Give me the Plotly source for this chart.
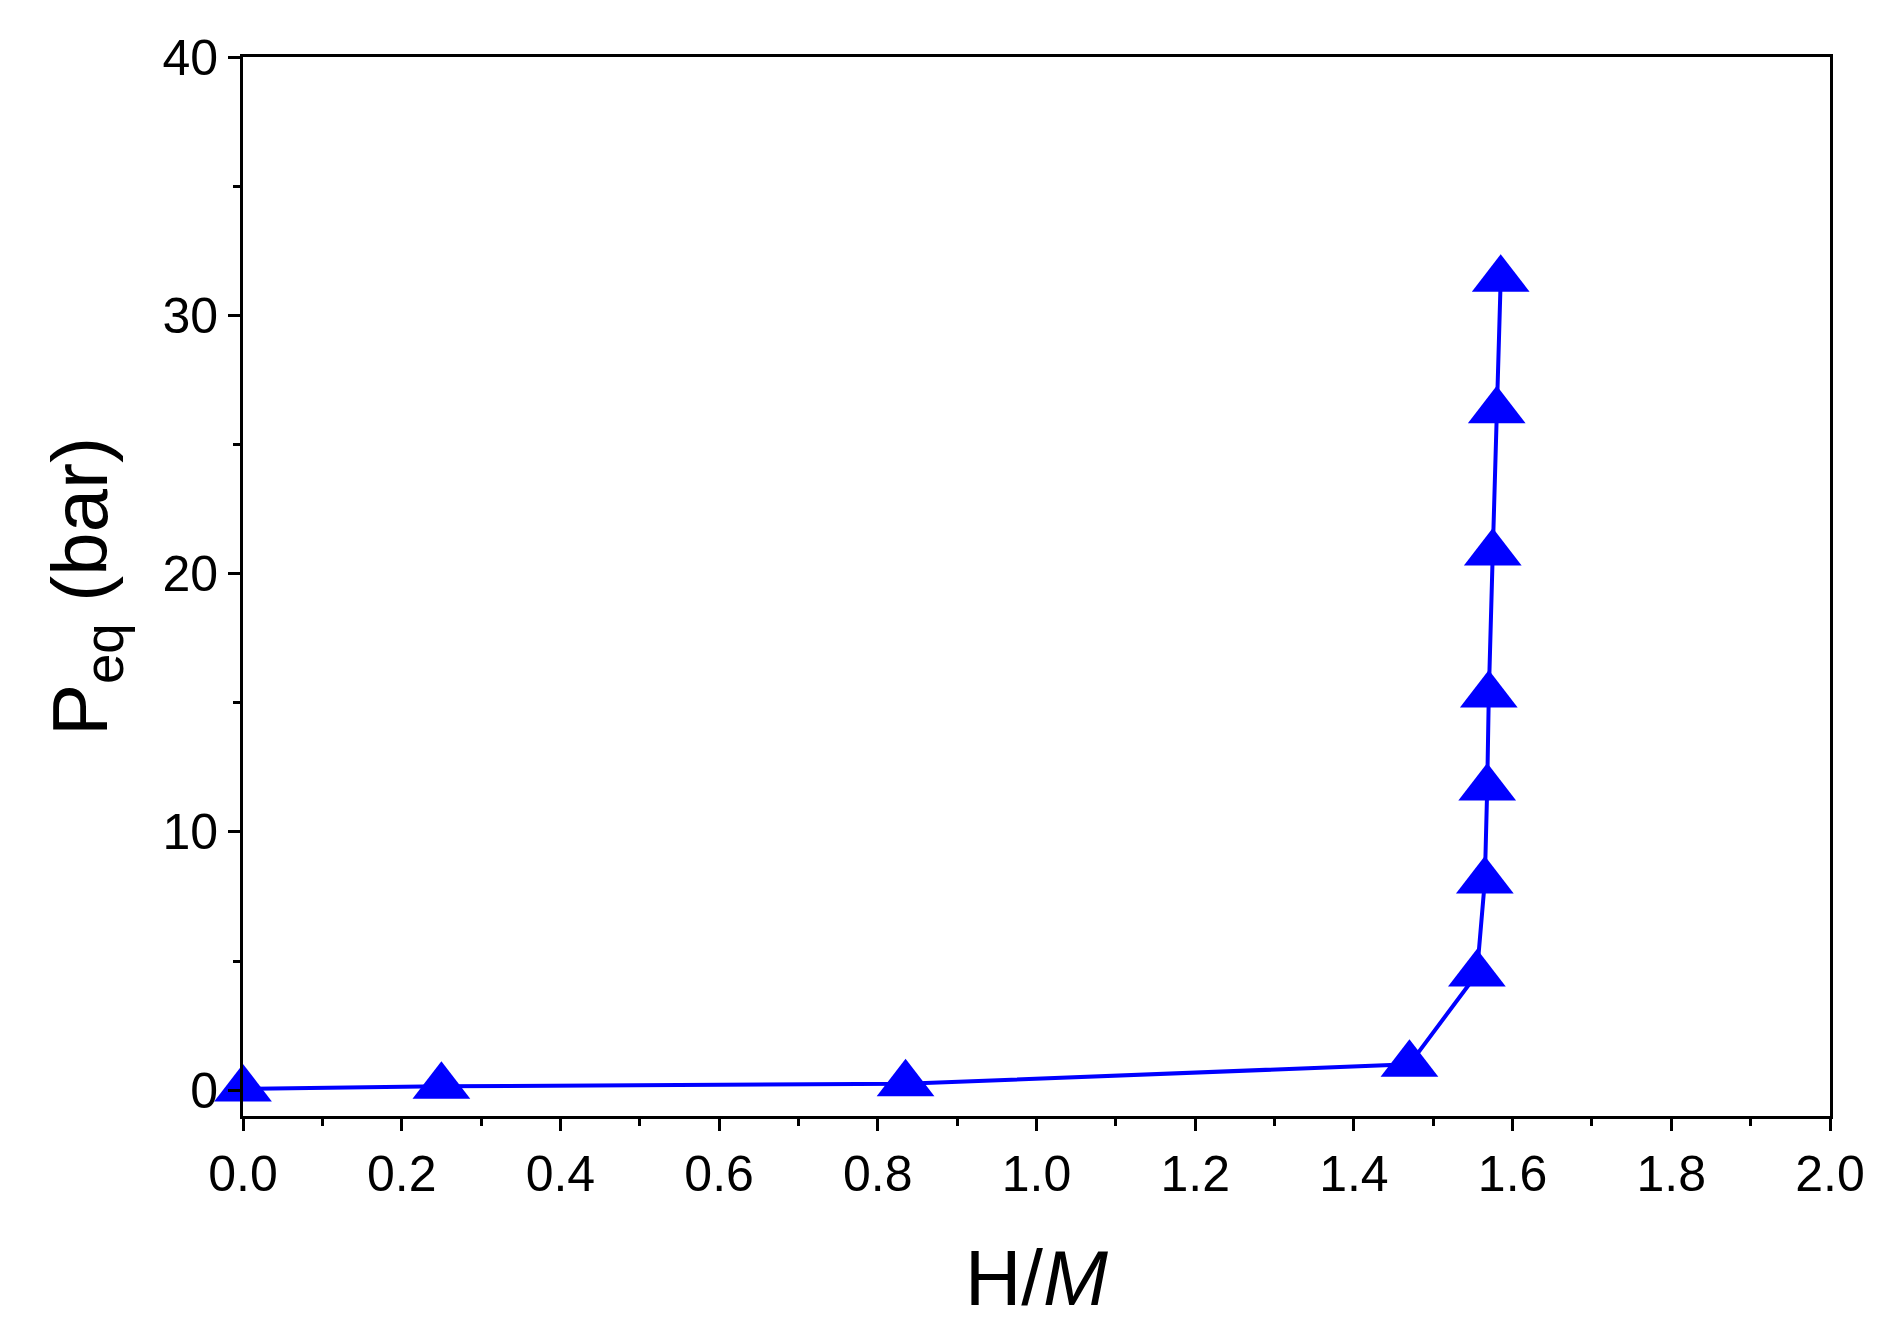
import plotly.graph_objects as go

h_m = [0.0, 0.25, 0.835, 1.47, 1.555, 1.565, 1.568, 1.570, 1.575, 1.580, 1.585]
p_eq = [0.05, 0.15, 0.25, 1.0, 4.5, 8.1, 11.7, 15.3, 20.8, 26.3, 31.4]

fig = go.Figure()
fig.add_trace(go.Scatter(
    x=h_m, y=p_eq, mode='lines+markers',
    line=dict(color='#0000ff', width=4),
    marker=dict(symbol='triangle-up', size=50, color='#0000ff'),
    cliponaxis=False, showlegend=False))

axis_common = dict(
    showgrid=False, zeroline=False, showline=True, linecolor='black', linewidth=3,
    mirror=True, ticks='outside', ticklen=12, tickwidth=3, tickcolor='black',
    tickfont=dict(family='Liberation Sans', size=50, color='black'),
    minor=dict(ticks='outside', ticklen=7, tickwidth=3, tickcolor='black'))

fig.update_xaxes(range=[0, 2], tick0=0, dtick=0.2, tickformat='.1f',
                 minor_dtick=0.1,
                 title=dict(text='H/<i>M</i>', standoff=50,
                            font=dict(family='Liberation Sans', size=78, color='black')),
                 **axis_common)
fig.update_yaxes(range=[-1, 40], tick0=0, dtick=10, minor_dtick=5,
                 title=dict(text='P<sub>eq</sub> (bar)', standoff=30,
                            font=dict(family='Liberation Sans', size=78, color='black')),
                 **axis_common)

fig.update_layout(width=1888, height=1342, plot_bgcolor='white', paper_bgcolor='white',
                  margin=dict(l=235, r=66, t=49, b=234))
fig.write_html("out.html")
